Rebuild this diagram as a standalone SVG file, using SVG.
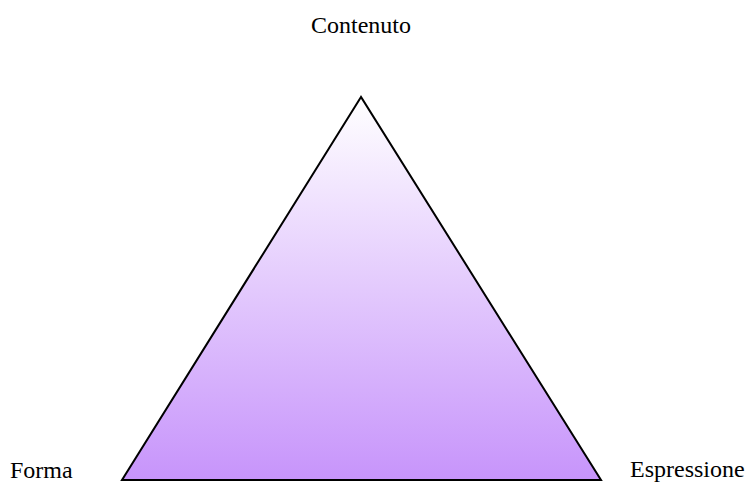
<svg xmlns="http://www.w3.org/2000/svg" width="745" height="483" viewBox="0 0 745 483">
<style>
text{font-family:"Liberation Serif","Times New Roman",serif;font-size:24px;fill:#000}
</style>
<defs>
<linearGradient id="g" x1="0" y1="0" x2="0" y2="1">
<stop offset="0" stop-color="#ffffff"/>
<stop offset="1" stop-color="#c794fb"/>
</linearGradient>
</defs>
<rect width="745" height="483" fill="#fff"/>
<g id="triangle">
<polygon points="361,97 122,480 601,480" fill="url(#g)" stroke="#000" stroke-width="2" stroke-linejoin="miter"/>
</g>
<g id="connectors"></g>
<g id="contenuto"><text x="361" y="33" text-anchor="middle">Contenuto</text></g>
<g id="forma"><text x="10" y="478">Forma</text></g>
<g id="espressione"><text x="630" y="477">Espressione</text></g>
</svg>
